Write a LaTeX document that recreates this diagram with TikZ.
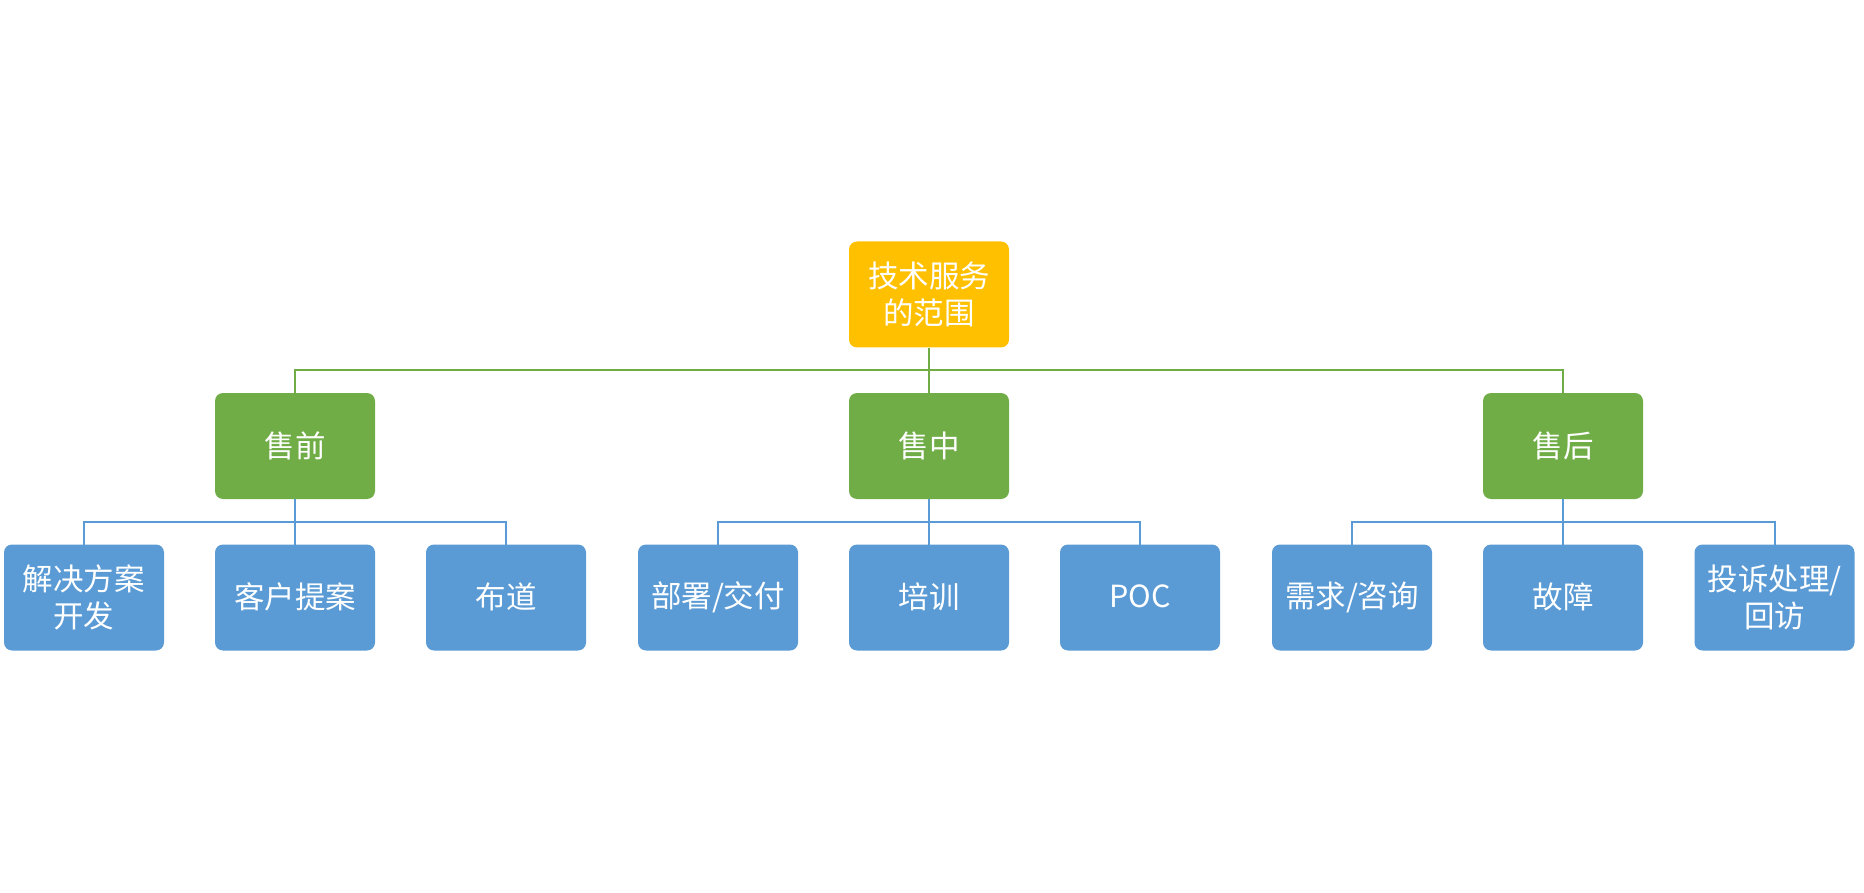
\documentclass[tikz,border=0pt]{standalone}
\usepackage{fontspec}
\newfontfamily\cjk{Noto Sans CJK SC}
\definecolor{rootc}{HTML}{FFC000}
\definecolor{greenc}{HTML}{70AD47}
\definecolor{bluec}{HTML}{5B9BD5}
\begin{document}
\begin{tikzpicture}[x=1pt,y=-1pt,
  box/.style={rounded corners=8pt, minimum width=160pt, minimum height=106pt,
    text=white, align=center, inner sep=0pt,
    font=\cjk\fontsize{30.5}{37}\selectfont},
  rootbox/.style={box, fill=rootc},
  midbox/.style={box, fill=greenc},
  leafbox/.style={box, fill=bluec},
  gline/.style={draw=greenc, line width=2pt},
  bline/.style={draw=bluec, line width=2pt}]
\useasboundingbox (0,0) rectangle (1864,893);
\node[rootbox] (root) at (929,294.5) {\raisebox{2pt}{技术服务}\\\raisebox{2pt}{的范围}};
\node[midbox] (m1) at (295,446) {\raisebox{3pt}{售前}};
\node[midbox] (m2) at (929,446) {\raisebox{3pt}{售中}};
\node[midbox] (m3) at (1563,446) {\raisebox{3pt}{售后}};
\node[leafbox] (l1) at (84,597.5) {\raisebox{2pt}{解决方案}\\\raisebox{2pt}{开发}};
\node[leafbox] (l2) at (295,597.5) {\raisebox{3pt}{客户提案}};
\node[leafbox] (l3) at (506,597.5) {\raisebox{3pt}{布道}};
\node[leafbox] (l4) at (718,597.5) {\raisebox{3pt}{部署/交付}};
\node[leafbox] (l5) at (929,597.5) {\raisebox{3pt}{培训}};
\node[leafbox] (l6) at (1140,597.5) {\raisebox{3pt}{POC}};
\node[leafbox] (l7) at (1352,597.5) {\raisebox{3pt}{需求/咨询}};
\node[leafbox] (l8) at (1563,597.5) {\raisebox{3pt}{故障}};
\node[leafbox] (l9) at (1774.5,597.5) {\raisebox{2pt}{投诉处理/}\\\raisebox{2pt}{回访}};
% root to green
\draw[gline] (root.south) -- ([yshift=-3pt]m2.north);
\draw[gline] ([yshift=-3pt]m1.north) |- (root.south |- 0,370) -| ([yshift=-3pt]m3.north);
% green to blue
\foreach \m/\a/\b/\c in {m1/l1/l2/l3, m2/l4/l5/l6, m3/l7/l8/l9}{
  \draw[bline] (\m.south) -- ([yshift=-3pt]\b.north);
  \draw[bline] ([yshift=-3pt]\a.north) |- (\b.north |- 0,522) -| ([yshift=-3pt]\c.north);
}
\end{tikzpicture}
\end{document}
